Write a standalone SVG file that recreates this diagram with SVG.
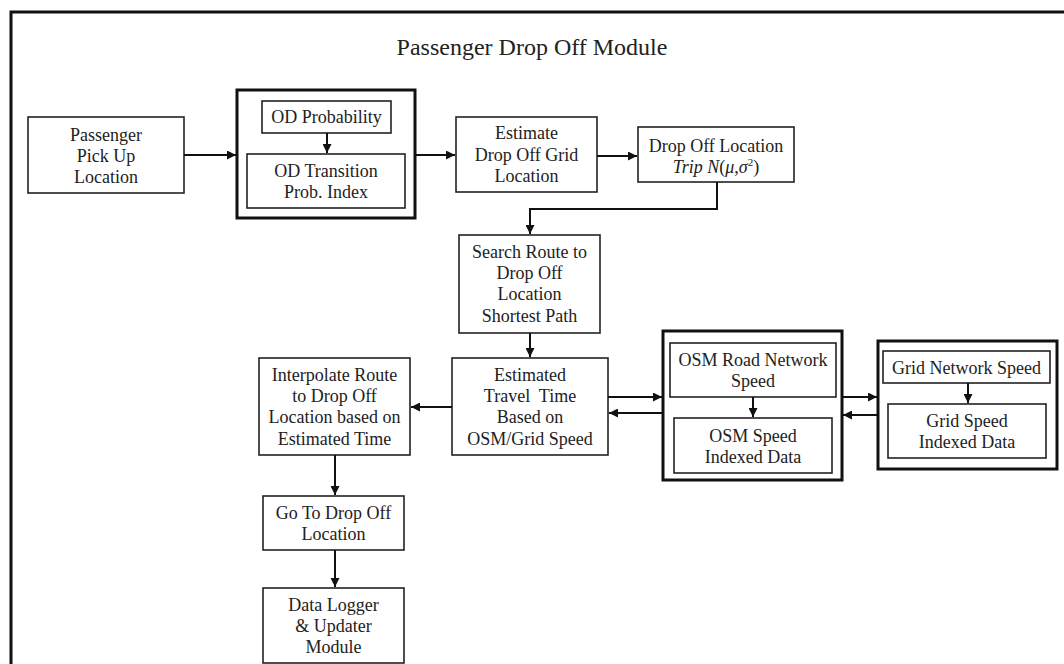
<svg xmlns="http://www.w3.org/2000/svg" width="1064" height="664" viewBox="0 0 1064 664">
<defs>
<style>
.box{fill:#fff;stroke:#222;stroke-width:1.6}
.thick{fill:#fff;stroke:#111;stroke-width:3}
.t{font-family:"Liberation Serif","Times New Roman",serif;font-size:18px;fill:#222;text-anchor:middle}
.c{fill:none;stroke:#111;stroke-width:2}
</style>
<marker id="ah" viewBox="0 0 10 10" refX="10" refY="5" markerWidth="4.5" markerHeight="4.5" orient="auto" markerUnits="strokeWidth">
<path d="M0,0 L10,5 L0,10 z" fill="#111"/>
</marker>
</defs>
<rect width="1064" height="664" fill="#fff"/>
<path d="M11,664 V12 H1064" fill="none" stroke="#111" stroke-width="3"/>
<text x="532" y="55" style="font-family:'Liberation Serif','Times New Roman',serif;font-size:24px;fill:#222;text-anchor:middle">Passenger Drop Off Module</text>

<g id="pickup">
<rect class="box" x="28" y="117" width="156" height="76"/>
<text class="t" x="106" y="141">Passenger</text>
<text class="t" x="106" y="162">Pick Up</text>
<text class="t" x="106" y="183">Location</text>
</g>

<g id="od-group">
<rect class="thick" x="237" y="90" width="178" height="128"/>
</g>
<g id="od-prob">
<rect class="box" x="262" y="101" width="129" height="32"/>
<text class="t" x="326.5" y="123">OD Probability</text>
</g>
<g id="od-trans">
<rect class="box" x="247" y="154" width="158" height="54"/>
<text class="t" x="326" y="177">OD Transition</text>
<text class="t" x="326" y="198">Prob. Index</text>
</g>

<g id="estimate">
<rect class="box" x="456" y="117" width="141" height="75"/>
<text class="t" x="526.5" y="139">Estimate</text>
<text class="t" x="526.5" y="161">Drop Off Grid</text>
<text class="t" x="526.5" y="182">Location</text>
</g>

<g id="dropoff">
<rect class="box" x="638" y="127" width="156" height="55"/>
<text class="t" x="716" y="152">Drop Off Location</text>
<text class="t" x="716" y="173"><tspan font-style="italic">Trip N</tspan>(<tspan font-style="italic">μ</tspan>,<tspan font-style="italic">σ</tspan><tspan font-size="11" dy="-7">2</tspan><tspan dy="7">)</tspan></text>
</g>

<g id="search">
<rect class="box" x="459" y="235" width="141" height="98"/>
<text class="t" x="529.5" y="258">Search Route to</text>
<text class="t" x="529.5" y="279">Drop Off</text>
<text class="t" x="529.5" y="300">Location</text>
<text class="t" x="529.5" y="322">Shortest Path</text>
</g>

<g id="travel">
<rect class="box" x="452" y="358" width="156" height="97"/>
<text class="t" x="530" y="381">Estimated</text>
<text class="t" x="530" y="402" xml:space="preserve">Travel  Time</text>
<text class="t" x="530" y="423">Based on</text>
<text class="t" x="530" y="445">OSM/Grid Speed</text>
</g>

<g id="interpolate">
<rect class="box" x="259" y="358" width="151" height="97"/>
<text class="t" x="334.5" y="381">Interpolate Route</text>
<text class="t" x="334.5" y="402">to Drop Off</text>
<text class="t" x="334.5" y="423">Location based on</text>
<text class="t" x="334.5" y="445">Estimated Time</text>
</g>

<g id="goto">
<rect class="box" x="263" y="496" width="141" height="54"/>
<text class="t" x="333.5" y="519">Go To Drop Off</text>
<text class="t" x="333.5" y="540">Location</text>
</g>

<g id="logger">
<rect class="box" x="263" y="588" width="141" height="75"/>
<text class="t" x="333.5" y="611">Data Logger</text>
<text class="t" x="333.5" y="632">&amp; Updater</text>
<text class="t" x="333.5" y="653">Module</text>
</g>

<g id="osm-group">
<rect class="thick" x="663" y="331" width="179" height="149"/>
</g>
<g id="osm-road">
<rect class="box" x="670" y="343" width="166" height="54"/>
<text class="t" x="753" y="366">OSM Road Network</text>
<text class="t" x="753" y="387">Speed</text>
</g>
<g id="osm-index">
<rect class="box" x="674" y="418" width="158" height="55"/>
<text class="t" x="753" y="442">OSM Speed</text>
<text class="t" x="753" y="463">Indexed Data</text>
</g>

<g id="grid-group">
<rect class="thick" x="878" y="341" width="179" height="128"/>
</g>
<g id="grid-net">
<rect class="box" x="883" y="351" width="167" height="32"/>
<text class="t" x="966.5" y="374">Grid Network Speed</text>
</g>
<g id="grid-index">
<rect class="box" x="888" y="404" width="158" height="54"/>
<text class="t" x="967" y="427">Grid Speed</text>
<text class="t" x="967" y="448">Indexed Data</text>
</g>

<g id="connectors">
<path class="c" d="M184,155 H236" marker-end="url(#ah)"/>
<path class="c" d="M327,133 V153" marker-end="url(#ah)"/>
<path class="c" d="M415,155 H455" marker-end="url(#ah)"/>
<path class="c" d="M597,156 H637" marker-end="url(#ah)"/>
<path class="c" d="M717,182 V209 H530 V234" marker-end="url(#ah)"/>
<path class="c" d="M530,333 V357" marker-end="url(#ah)"/>
<path class="c" d="M452,407 H411" marker-end="url(#ah)"/>
<path class="c" d="M335,455 V495" marker-end="url(#ah)"/>
<path class="c" d="M335,550 V587" marker-end="url(#ah)"/>
<path class="c" d="M608,397 H662" marker-end="url(#ah)"/>
<path class="c" d="M663,413 H609" marker-end="url(#ah)"/>
<path class="c" d="M753,397 V417" marker-end="url(#ah)"/>
<path class="c" d="M842,397 H877" marker-end="url(#ah)"/>
<path class="c" d="M878,415 H843" marker-end="url(#ah)"/>
<path class="c" d="M968,383 V403" marker-end="url(#ah)"/>
</g>
</svg>
